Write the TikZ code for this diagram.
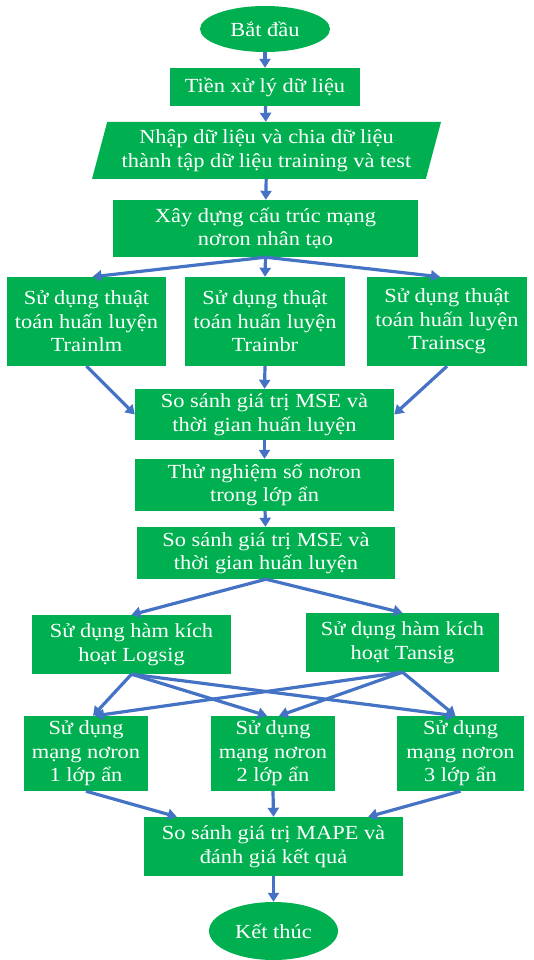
\documentclass[tikz,border=0pt]{standalone}
\usepackage{fontspec}
\setmainfont{Liberation Serif}[FakeStretch=1.12]
\usetikzlibrary{shapes.geometric, arrows.meta}

\definecolor{boxgreen}{HTML}{00B050}
\definecolor{flowblue}{HTML}{4472C4}

\begin{document}
\begin{tikzpicture}[x=1pt, y=-1pt,
    box/.style={rectangle, fill=boxgreen, text=white, align=center, inner sep=0pt,
        font=\fontsize{20}{23.5}\selectfont},
    terminal/.style={box, ellipse},
    flow/.style={flowblue, line width=3.2pt, -{Triangle[length=9pt, width=11pt]}}]
    \useasboundingbox (0,0) rectangle (534,960);

    % Start and preparation
    \node[terminal, minimum width=130pt, minimum height=46pt] (start) at (265,29) {Bắt đầu};
    \node[box, minimum width=190pt, minimum height=38pt] (prep) at (265,87) {Tiền xử lý dữ liệu};
    \node[box, trapezium, trapezium left angle=70, trapezium right angle=110,
        trapezium stretches body, minimum width=349pt, minimum height=57pt] (input) at (266.5,150.5)
        {Nhập dữ liệu và chia dữ liệu\\thành tập dữ liệu training và test};
    \node[box, minimum width=305pt, minimum height=57pt] (build) at (265.5,228.5)
        {Xây dựng cấu trúc mạng\\nơron nhân tạo};

    % Training algorithms
    \node[box, minimum width=159pt, minimum height=89pt] (lm) at (86.5,321.5)
        {Sử dụng thuật\\toán huấn luyện\\Trainlm};
    \node[box, minimum width=160pt, minimum height=89pt] (br) at (265,321.5)
        {Sử dụng thuật\\toán huấn luyện\\Trainbr};
    \node[box, minimum width=160pt, minimum height=89pt] (scg) at (447,321.5)
        {Sử dụng thuật\\toán huấn luyện\\Trainscg};
    \node[box, minimum width=259pt, minimum height=51pt] (cmpA) at (264.5,414.5)
        {So sánh giá trị MSE và\\thời gian huấn luyện};
    \node[box, minimum width=259pt, minimum height=52pt] (hidden) at (264.5,485)
        {Thử nghiệm số nơron\\trong lớp ẩn};
    \node[box, minimum width=258pt, minimum height=52pt] (cmpB) at (266,553)
        {So sánh giá trị MSE và\\thời gian huấn luyện};

    % Activation functions
    \node[box, minimum width=199pt, minimum height=59pt] (logsig) at (131.5,644.5)
        {Sử dụng hàm kích\\hoạt Logsig};
    \node[box, minimum width=193pt, minimum height=59pt] (tansig) at (402.5,642.5)
        {Sử dụng hàm kích\\hoạt Tansig};

    % Hidden layers
    \node[box, minimum width=124pt, minimum height=75pt] (layerA) at (86,753.5)
        {Sử dụng\\mạng nơron\\1 lớp ẩn};
    \node[box, minimum width=124pt, minimum height=75pt] (layerB) at (273,753.5)
        {Sử dụng\\mạng nơron\\2 lớp ẩn};
    \node[box, minimum width=127pt, minimum height=75pt] (layerC) at (460.5,753.5)
        {Sử dụng\\mạng nơron\\3 lớp ẩn};
    \node[box, minimum width=259pt, minimum height=59pt] (mape) at (273.5,846.5)
        {So sánh giá trị MAPE và\\đánh giá kết quả};
    \node[terminal, minimum width=129pt, minimum height=58pt] (stop) at (273.5,931) {Kết thúc};

    % Connectors
    \draw[flow] (start) -- (prep);
    \draw[flow] (prep) -- (input);
    \draw[flow] (input) -- (build);
    \draw[flow] (build.south) -- ([xshift=6pt]lm.north);
    \draw[flow] (build.south) -- (br.north);
    \draw[flow] (build.south) -- ([xshift=-7pt]scg.north);
    \draw[flow] (lm.south) -- (cmpA.west);
    \draw[flow] (br.south) -- (cmpA.north);
    \draw[flow] (scg.south) -- (cmpA.east);
    \draw[flow] (cmpA) -- (hidden);
    \draw[flow] (hidden) -- (cmpB);
    \draw[flow] (cmpB.south) -- (logsig.north);
    \draw[flow] (cmpB.south) -- (tansig.north);
    \draw[flow] (logsig.south) -- ([xshift=7pt]layerA.north);
    \draw[flow] (logsig.south) -- ([xshift=-6pt]layerB.north);
    \draw[flow] (logsig.south) -- ([xshift=-5pt]layerC.north);
    \draw[flow] (tansig.south) -- ([xshift=9pt]layerA.north);
    \draw[flow] (tansig.south) -- ([xshift=6pt]layerB.north);
    \draw[flow] (tansig.south) -- ([xshift=-5pt]layerC.north);
    \draw[flow] (layerA.south) -- ([xshift=33pt]mape.north west);
    \draw[flow] (layerB.south) -- (mape.north);
    \draw[flow] (layerC.south) -- ([xshift=-35pt]mape.north east);
    \draw[flow] (mape) -- (stop);
\end{tikzpicture}
\end{document}
